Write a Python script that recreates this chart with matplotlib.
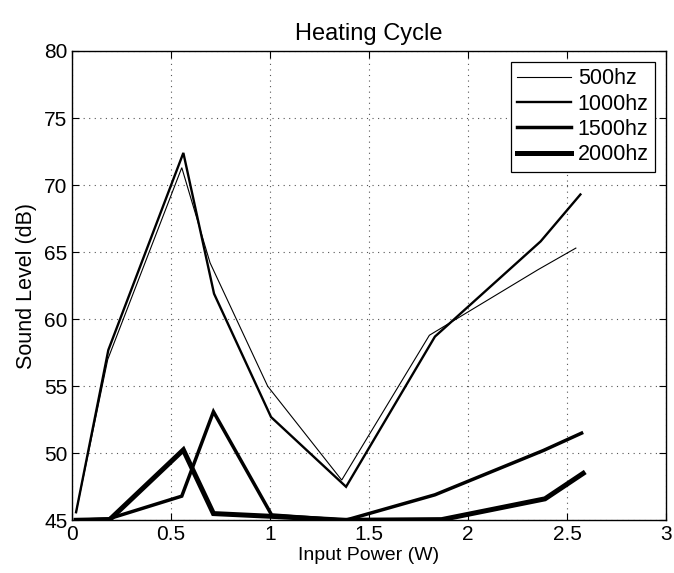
import numpy as np
import matplotlib.pyplot as plt

plt.rcParams.update({
    "font.family": ["Liberation Sans", "DejaVu Sans"],
    "figure.facecolor": "white",
})

# Data
x_500 = [0.02, 0.18, 0.554, 0.697, 0.988, 1.362, 1.805, 2.355, 2.545]
y_500 = [45.6, 57.0, 71.3, 64.2, 55.0, 48.0, 58.8, 63.7, 65.3]

x_1000 = [0.02, 0.183, 0.562, 0.717, 1.005, 1.384, 1.833, 2.367, 2.568]
y_1000 = [45.6, 57.7, 72.4, 61.9, 52.7, 47.5, 58.7, 65.8, 69.3]

x_1500 = [0.02, 0.183, 0.554, 0.714, 1.008, 1.38, 1.833, 2.38, 2.574]
y_1500 = [45.0, 45.1, 46.8, 53.1, 45.4, 45.0, 46.9, 50.2, 51.5]

x_2000 = [0.02, 0.19, 0.562, 0.714, 1.0, 1.38, 1.867, 2.389, 2.582]
y_2000 = [45.0, 45.05, 50.25, 45.5, 45.3, 45.0, 45.05, 46.6, 48.5]

labels = ["500hz", "1000hz", "1500hz", "2000hz"]
widths = [0.8, 1.7, 2.5, 3.6]

fig = plt.figure(figsize=(6.74, 5.73), dpi=100)
ax = fig.add_axes([0.107, 0.092, 0.881, 0.819])

series = [(x_500, y_500), (x_1000, y_1000), (x_1500, y_1500), (x_2000, y_2000)]
for (xs, ys), lab, lw in zip(series, labels, widths):
    ax.plot(xs, ys, color="black", lw=lw, label=lab, solid_joinstyle="miter")

ax.set_xlim(0, 3)
ax.set_ylim(45, 80)
ax.set_xticks(np.arange(0, 3.01, 0.5))
ax.set_xticklabels(["0", "0.5", "1", "1.5", "2", "2.5", "3"])
ax.set_yticks(np.arange(45, 80.1, 5))
ax.grid(True, linestyle=(0, (1, 4)), color="#555555", lw=0.8)
ax.tick_params(axis="both", direction="in", length=5, width=0.8,
               top=True, right=True, labelsize=15)
for spine in ax.spines.values():
    spine.set_linewidth(1.0)

ax.set_title("Heating Cycle", fontsize=17, pad=8)
ax.set_xlabel("Input Power (W)", fontsize=14, labelpad=2)
ax.set_ylabel("Sound Level (dB)", fontsize=15.5, labelpad=5)

leg = ax.legend(loc="upper right", fontsize=15.5, handlelength=2.5,
                handletextpad=0.3, borderpad=0.3, labelspacing=0.2,
                fancybox=False, framealpha=1, edgecolor="black",
                borderaxespad=0.5)
leg.get_frame().set_linewidth(0.9)

fig.savefig("out.png", dpi=100)
